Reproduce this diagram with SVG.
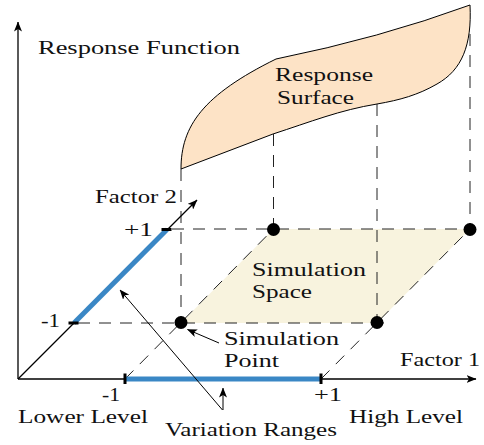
<svg xmlns="http://www.w3.org/2000/svg" width="484" height="445" viewBox="0 0 484 445">
<defs>
<marker id="ah" viewBox="0 0 10 8" refX="9.5" refY="4" markerWidth="10" markerHeight="8" markerUnits="userSpaceOnUse" orient="auto">
<path d="M0,0 L10,4 L0,8 L2.5,4 Z" fill="#000"/>
</marker>
<style>
text{font-family:"Liberation Serif","Times New Roman",serif;font-size:19px;fill:#111}
.dash{stroke:#222;stroke-width:1;stroke-dasharray:12 9;fill:none}
.ax{stroke:#000;stroke-width:1.3;fill:none}
.thin{stroke:#000;stroke-width:1;fill:none}
.blue{stroke:#3a87c5;stroke-width:5;fill:none}
.tick{fill:#000}
.pt{fill:#000}
</style>
</defs>
<rect width="484" height="445" fill="#fff"/>
<g id="simulation-space">
<polygon points="181,323 273.5,229 470,229 377,323" fill="#f8f3de"/>
</g>
<g id="response-surface">
<path d="M181,169 C181,126 203,95 276,59 Q380,38 470,5 C472,45 462,70 437,84 C418,95 400,100 377,104 C340,110 310,122 273,134 L181,169 Z" fill="#fde3c6" stroke="#000" stroke-width="1"/>
</g>
<g id="guides">
<line class="dash" x1="78" y1="323" x2="389" y2="323"/>
<line class="dash" x1="172" y1="229" x2="470" y2="229"/>
<line class="dash" x1="181" y1="169" x2="181" y2="323"/>
<line class="dash" x1="273.5" y1="134" x2="273.5" y2="229"/>
<line class="dash" x1="377" y1="104" x2="377" y2="323"/>
<line class="dash" x1="470" y1="34" x2="470" y2="229"/>
<line class="dash" x1="125" y1="379" x2="273.5" y2="229"/>
<line class="dash" x1="321" y1="379" x2="470" y2="229"/>
</g>
<g id="axes">
<line class="ax" x1="18" y1="379" x2="18" y2="22" marker-end="url(#ah)"/>
<line class="ax" x1="18" y1="379" x2="476" y2="379" marker-end="url(#ah)"/>
<line class="ax" x1="18" y1="379" x2="197" y2="200" marker-end="url(#ah)"/>
</g>
<g id="ranges">
<line class="blue" x1="125" y1="379" x2="321" y2="379"/>
<line class="blue" x1="74" y1="323" x2="167" y2="229.5"/>
<rect class="tick" x="123.5" y="373.5" width="3" height="10.5"/>
<rect class="tick" x="319.5" y="373.5" width="3" height="10.5"/>
<rect class="tick" x="68.5" y="321.5" width="10" height="3"/>
<rect class="tick" x="161.5" y="228" width="10" height="3"/>
</g>
<g id="points">
<circle class="pt" cx="181" cy="322.5" r="6.5"/>
<circle class="pt" cx="273.5" cy="229.5" r="6.5"/>
<circle class="pt" cx="470" cy="229.5" r="6.5"/>
<circle class="pt" cx="377" cy="322.5" r="6.5"/>
</g>
<g id="connectors">
<line class="thin" x1="219" y1="343" x2="187.5" y2="329.5" marker-end="url(#ah)"/>
<line class="thin" x1="222.5" y1="410" x2="120" y2="290" marker-end="url(#ah)"/>
<line class="thin" x1="223" y1="410" x2="223" y2="388" marker-end="url(#ah)"/>
</g>
<g id="labels">
<text x="38" y="54" textLength="202" lengthAdjust="spacingAndGlyphs">Response Function</text>
<text x="275" y="81" textLength="98" lengthAdjust="spacingAndGlyphs">Response</text>
<text x="277" y="104" textLength="77" lengthAdjust="spacingAndGlyphs">Surface</text>
<text x="95" y="203" textLength="82" lengthAdjust="spacingAndGlyphs">Factor 2</text>
<text x="124" y="236" textLength="29" lengthAdjust="spacingAndGlyphs">+1</text>
<text x="41" y="327" textLength="19" lengthAdjust="spacingAndGlyphs">-1</text>
<text x="252" y="276" textLength="114" lengthAdjust="spacingAndGlyphs">Simulation</text>
<text x="252" y="297.5" textLength="60" lengthAdjust="spacingAndGlyphs">Space</text>
<text x="224" y="345" textLength="115" lengthAdjust="spacingAndGlyphs">Simulation</text>
<text x="224" y="367" textLength="55" lengthAdjust="spacingAndGlyphs">Point</text>
<text x="400" y="366" textLength="80" lengthAdjust="spacingAndGlyphs">Factor 1</text>
<text x="102" y="400.5" textLength="18" lengthAdjust="spacingAndGlyphs">-1</text>
<text x="314" y="400.5" textLength="28" lengthAdjust="spacingAndGlyphs">+1</text>
<text x="18" y="422.5" textLength="130" lengthAdjust="spacingAndGlyphs">Lower Level</text>
<text x="349" y="422.5" textLength="114" lengthAdjust="spacingAndGlyphs">High Level</text>
<text x="165" y="436" textLength="172" lengthAdjust="spacingAndGlyphs">Variation Ranges</text>
</g>
</svg>
